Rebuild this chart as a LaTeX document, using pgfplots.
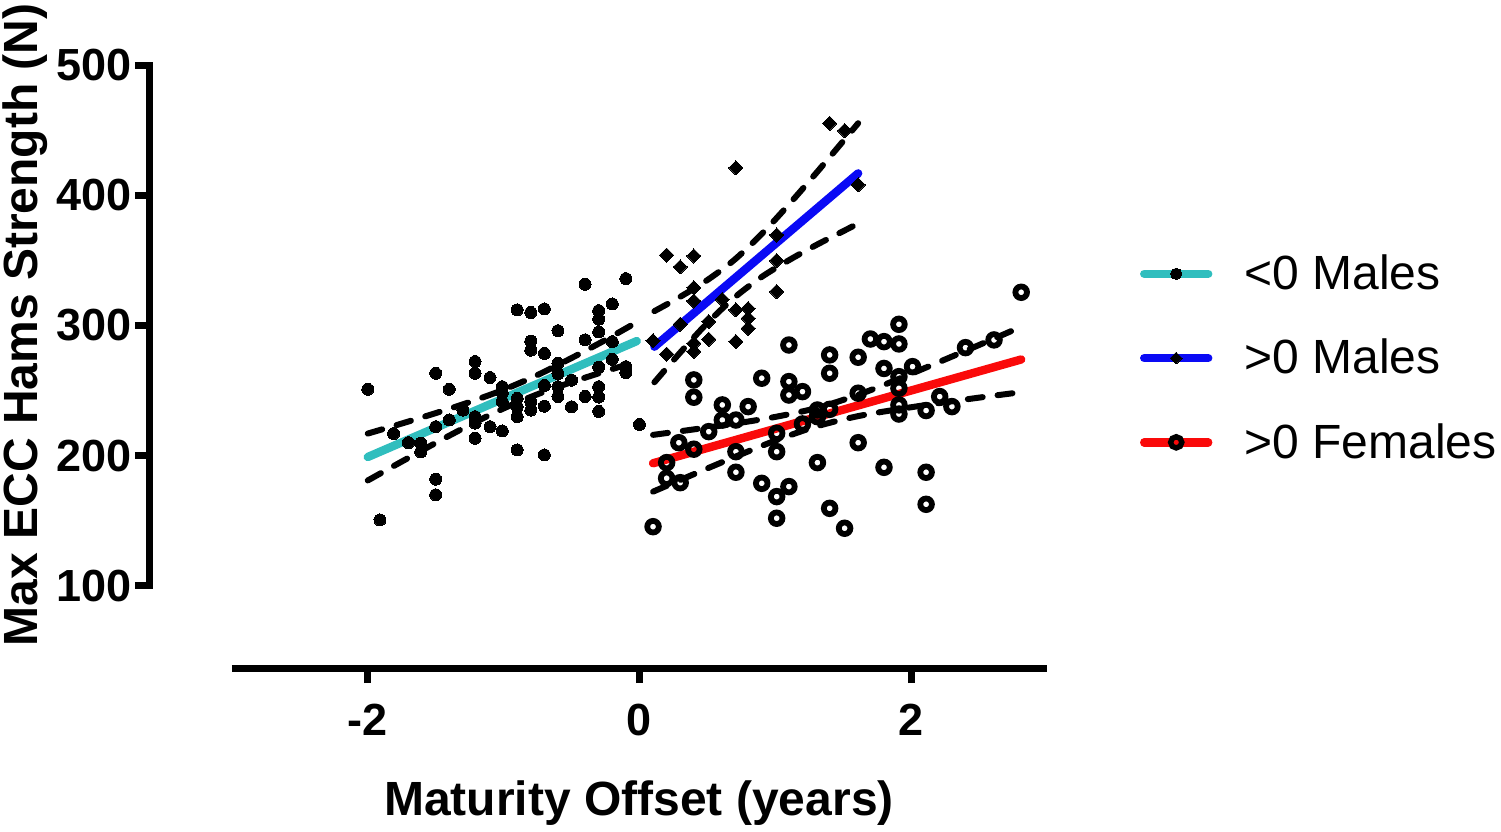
\documentclass[border=0pt]{standalone}
\usepackage{pgfplots}
\pgfplotsset{compat=1.18}
\usepackage{fontspec}
\setmainfont{Liberation Sans}
\definecolor{mycyan}{RGB}{48,190,190}
\definecolor{myblue}{RGB}{10,10,245}
\definecolor{myred}{RGB}{250,10,10}
\begin{document}
\begin{tikzpicture}
\begin{axis}[
  name=ax, at={(0,0)}, anchor=south west,
  scale only axis, width=448.5pt, height=301.5pt,
  xmin=-3.603, xmax=3.0, ymin=37, ymax=500,
  axis x line*=bottom, axis y line*=left,
  axis line style={draw=none},
  clip=false,
  xtick={-2,0,2}, xticklabels={-2,0,2},
  ytick={100,200,300,400,500}, yticklabels={100,200,300,400,500},
  tick align=outside,
  major tick length=7.5pt,
  tick style={line width=3.5pt, black},
  /pgf/number format/assume math mode=true,
  ticklabel style={font=\fontsize{22.5}{26}\selectfont\bfseries, inner sep=0pt},
  yticklabel style={anchor=east, xshift=-1.5pt},
  xticklabel style={anchor=north, yshift=-10.5pt},
  xlabel={Maturity Offset (years)},
  ylabel={Max ECC Hams Strength (N)},
  every axis x label/.style={at={(rel axis cs:0.5452,-0.2438)}, anchor=base, inner sep=0pt, font=\fontsize{24}{28}\selectfont\bfseries},
  every axis y label/.style={at={(rel axis cs:-0.1249,0.569)}, anchor=base, rotate=90, inner sep=0pt, font=\fontsize{24}{28}\selectfont\bfseries},
  legend style={at={(rel axis cs:1.1037,0.514)}, anchor=west, draw=none, fill=none,
    inner sep=0pt, outer sep=0pt, font=\fontsize{24}{28}\selectfont,
    row sep=19.25pt, cells={anchor=west},
    /tikz/every odd column/.append style={column sep=14pt}},
  legend image code/.code={\draw[mark repeat=2,mark phase=2,#1] plot coordinates {(0pt,0pt) (16pt,0pt) (32pt,0pt)};},
  cidash/.style={black, line width=3pt, line cap=round, dash pattern=on 7.5pt off 7.5pt, smooth, forget plot},
]
% regression lines
\addplot[mycyan, line width=4.2pt, line cap=round, forget plot] coordinates {(-2,199) (-0.02,288)};
\addplot[myblue, line width=4.2pt, line cap=round, forget plot] coordinates {(0.11,283.7) (1.61,416.8)};
\addplot[myred, line width=4.2pt, line cap=round, forget plot] coordinates {(0.10,194.2) (2.81,273.9)};
% confidence bands, <0 males
\addplot[cidash] coordinates {(-2,217) (-1.75,224.7) (-1.5,232.7) (-1.25,241.2) (-1,250.7) (-0.75,262) (-0.5,275) (-0.25,288.9) (-0.02,302.5)};
\addplot[cidash] coordinates {(-2,181) (-1.75,195.5) (-1.5,209.8) (-1.25,223.6) (-1,236.3) (-0.75,247.2) (-0.5,256.5) (-0.25,264.9) (-0.02,272.3)};
% >0 males
\addplot[cidash] coordinates {(0.11,311.0) (0.3,322.0) (0.5,334.9) (0.7,350.5) (0.9,370.3) (1.1,392.9) (1.3,416.9) (1.5,441.6) (1.61,455.3)};
\addplot[cidash] coordinates {(0.11,256.4) (0.3,279.2) (0.5,301.9) (0.7,321.5) (0.9,337.3) (1.1,350.1) (1.3,361.7) (1.5,372.4) (1.61,378.3)};
% >0 females
\addplot[cidash] coordinates {(0.1,216.0) (0.4,220.2) (0.7,224.6) (1.0,229.8) (1.3,236.5) (1.6,246.4) (1.9,258.6) (2.2,271.7) (2.5,285.0) (2.81,299.0)};
\addplot[cidash] coordinates {(0.1,172.4) (0.4,185.8) (0.7,199.0) (1.0,211.6) (1.3,222.4) (1.6,230.2) (1.9,235.6) (2.2,240.3) (2.5,244.6) (2.81,248.8)};
% data: <0 males
\addplot[only marks, mark=*, mark size=3pt, mark options={fill=black, draw=black, line width=0pt}, forget plot] table {
x y
-2.00 251
-1.91 150.7
-1.81 217
-1.70 210
-1.61 209.6
-1.61 203
-1.50 263.3
-1.50 222.3
-1.50 182
-1.50 170
-1.40 251
-1.40 227.5
-1.30 235
-1.21 272.3
-1.21 263.3
-1.21 230
-1.21 225
-1.21 213.4
-1.10 260
-1.10 222.3
-1.01 253
-1.01 248
-1.01 241.5
-1.01 219
-0.90 312
-0.90 244
-0.90 237.6
-0.90 230
-0.90 204.4
-0.80 310
-0.80 288
-0.80 281
-0.80 241.5
-0.80 235
-0.70 312.7
-0.70 278.6
-0.70 254
-0.70 238
-0.70 200.6
-0.60 296
-0.60 271
-0.60 263
-0.60 253
-0.60 245.5
-0.50 258
-0.50 237.6
-0.40 331.6
-0.40 289
-0.40 245.5
-0.30 311.4
-0.30 304.8
-0.30 295
-0.30 268
-0.30 253
-0.30 245
-0.30 234
-0.20 316.5
-0.20 287.6
-0.20 274
-0.10 336
-0.10 263.8
-0.10 268.4
0.00 224
};
% data: >0 males
\addplot[only marks, mark=square*, mark size=2.5pt, mark options={rotate=45, fill=black, draw=black, line width=0pt}, forget plot] table {
x y
1.40 455.2
1.51 449.6
1.61 408
0.71 421
1.01 369.5
1.01 349.8
1.01 326
0.20 354
0.40 353.4
0.30 345
0.40 329
0.40 318.8
0.61 320
0.71 312
0.80 313
0.80 305.5
0.80 297.8
0.51 303
0.51 289.4
0.71 287.6
0.30 301
0.40 286.3
0.40 280
0.20 278
0.10 288.3
};
% data: >0 females
\addplot[only marks, mark=o, mark size=2.9pt, mark options={draw=black, line width=2.9pt}, forget plot] table {
x y
2.81 325.5
1.91 300.9
1.70 289.6
1.80 287.6
1.91 285.8
1.10 285
2.40 283
2.61 288.9
1.40 277.4
1.61 275.6
1.80 267
2.01 268.4
1.91 260.7
1.91 251.8
1.91 239
1.91 232
1.40 263.3
0.40 258.2
0.40 244.9
0.90 259.5
1.10 256.9
1.10 246.6
1.20 249.2
1.61 248
2.21 245.4
2.30 237.7
2.11 234.7
0.61 239
0.80 237.7
0.51 218.5
0.61 227.4
0.71 227.4
0.71 203.1
0.71 187.3
0.29 210
0.40 205
0.20 194.7
0.20 182.7
0.30 179.3
0.10 145.5
1.01 217.2
1.01 203.1
1.20 224.4
1.31 235.1
1.31 230
1.40 235.6
0.90 178.8
1.01 168.6
1.10 176.3
1.01 152
1.31 194.7
1.40 159.6
1.51 144.3
1.61 210
1.80 191.1
2.11 187.3
2.11 162.7
};
% axis lines
\draw[line width=3.5pt, line cap=rect] (axis cs:-3.603,100) -- (axis cs:-3.603,500);
\draw[line width=3.5pt] (axis cs:-3,37) -- (axis cs:3,37);
% legend
\addlegendimage{mycyan, line width=4.2pt, line cap=round, mark=*, mark size=2.8pt, mark options={fill=black, draw=black, line width=0pt}}
\addlegendentry{<0 Males}
\addlegendimage{myblue, line width=4.2pt, line cap=round, mark=square*, mark size=2.05pt, mark options={rotate=45, fill=black, draw=black, line width=0pt}}
\addlegendentry{>0 Males}
\addlegendimage{myred, line width=4.2pt, line cap=round, mark=o, mark size=2.8pt, mark options={draw=black, line width=2.7pt}}
\addlegendentry{>0 Females}
\end{axis}
\pgfresetboundingbox
\path (-75pt,-81.5pt) rectangle (675.5pt,334pt);
\end{tikzpicture}
\end{document}
